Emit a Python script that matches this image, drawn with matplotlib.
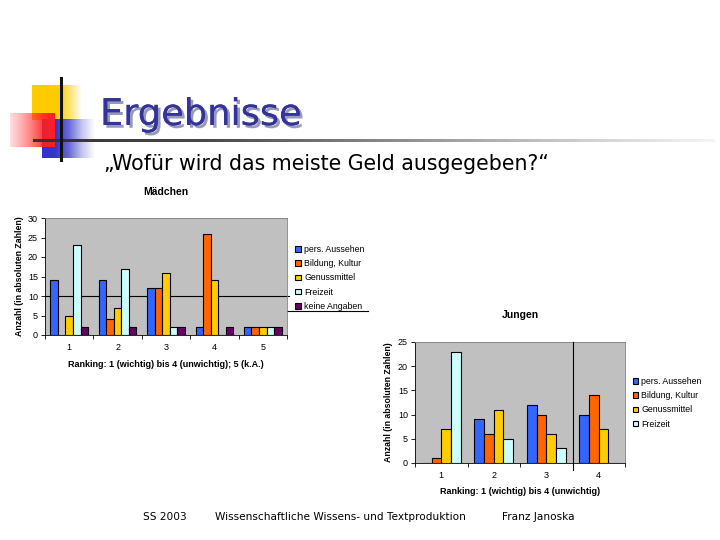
import numpy as np
import matplotlib
matplotlib.use("Agg")
import matplotlib.pyplot as plt
import matplotlib.patheffects as pe

# data
series = ["pers. Aussehen", "Bildung, Kultur", "Genussmittel", "Freizeit", "keine Angaben"]
colors = ["#3366FF", "#FF6600", "#FFCC00", "#CCFFFF", "#660066"]

maedchen_cats = ["1", "2", "3", "4", "5"]
maedchen_aussehen = [14, 14, 12, 2, 2]
maedchen_bildung = [0, 4, 12, 26, 2]
maedchen_genuss = [5, 7, 16, 14, 2]
maedchen_freizeit = [23, 17, 2, 0, 2]
maedchen_keine = [2, 2, 2, 2, 2]

jungen_cats = ["1", "2", "3", "4"]
jungen_aussehen = [0, 9, 12, 10]
jungen_bildung = [1, 6, 10, 14]
jungen_genuss = [7, 11, 6, 7]
jungen_freizeit = [23, 5, 3, 0]

W, H = 720, 540
plt.rcParams["font.family"] = ["Liberation Sans", "DejaVu Sans"]
fig = plt.figure(figsize=(7.2, 5.4), dpi=100)


def box(x0, y0, x1, y1):
    return [x0 / W, 1 - y1 / H, (x1 - x0) / W, (y1 - y0) / H]


# background overlay in pixel coordinates
bg = fig.add_axes([0, 0, 1, 1], zorder=-1)
bg.set_xlim(0, W)
bg.set_ylim(H, 0)
bg.axis("off")


def grad(ax, x0, x1, y0, y1, rgb, alphas):
    a = np.interp(np.linspace(0, 1, 200), np.linspace(0, 1, len(alphas)), alphas)
    img = np.zeros((2, 200, 4))
    img[..., :3] = matplotlib.colors.to_rgb(rgb)
    img[..., 3] = a
    ax.imshow(img, extent=(x0, x1, y1, y0), aspect="auto", interpolation="bilinear")


grad(bg, 32, 82, 85, 120, "#FFCC00", [1, 1, 1, 0.6, 0])
grad(bg, 42, 95, 119, 158, "#3333CC", [1, 1, 0.75, 0.3, 0])
grad(bg, 10, 55, 113, 147, "#FF2020", [0.15, 0.35, 0.6, 0.9, 1])
grad(bg, 33, 715, 139.5, 142.5, "#333333", [1, 0.9, 0.6, 0.3, 0.05])
bg.plot([61, 61], [78, 160], color="#111111", lw=2.2)
bg.plot([283, 368], [311, 311], color="black", lw=0.8)
bg.set_xlim(0, W)
bg.set_ylim(H, 0)

fig.text(100 / W, 1 - 125 / H, "Ergebnisse", fontsize=26.5, color="#333399",
         family="DejaVu Sans",
         path_effects=[pe.withSimplePatchShadow(offset=(2, -2),
                                                shadow_rgbFace="#9999BB", alpha=1),
                       pe.Normal()])
fig.text(104 / W, 1 - 170 / H, "\u201eWofür wird das meiste Geld ausgegeben?\u201c",
         fontsize=14.8, color="black", family="DejaVu Sans")

fig.text(143 / W, 1 - 520 / H, "SS 2003", fontsize=7.6, family="DejaVu Sans")
fig.text(215 / W, 1 - 520 / H, "Wissenschaftliche Wissens- und Textproduktion",
         fontsize=7.6, family="DejaVu Sans")
fig.text(502 / W, 1 - 520 / H, "Franz Janoska", fontsize=7.6, family="DejaVu Sans")


def chart(rect, cats, values, ymax, title, xlabel, title_y, label_y, ylab_x, bw):
    ax = fig.add_axes(rect)
    ax.set_facecolor("#C0C0C0")
    n = len(values)
    x = np.arange(1, len(cats) + 1)
    for i, v in enumerate(values):
        off = (i - (n - 1) / 2) * bw
        ax.bar(x + off, v, width=bw, color=colors[i], edgecolor="black",
               linewidth=0.8, label=series[i], zorder=2)
    ax.set_xlim(0.5, len(cats) + 0.5)
    ax.set_ylim(0, ymax)
    ax.set_yticks(range(0, ymax + 1, 5))
    ax.set_xticks(x)
    ax.set_xticklabels(cats)
    ax.set_xticks(np.arange(0.5, len(cats) + 1, 1), minor=True)
    ax.tick_params(axis="x", which="major", length=0, pad=6, labelsize=6.5)
    ax.tick_params(axis="x", which="minor", length=3, width=0.6)
    ax.tick_params(axis="y", length=3, width=0.6, labelsize=6.5, pad=2)
    for s in ["top", "right"]:
        ax.spines[s].set_color("#808080")
        ax.spines[s].set_linewidth(0.6)
    for s in ["left", "bottom"]:
        ax.spines[s].set_color("black")
        ax.spines[s].set_linewidth(0.6)
    ax.text(0.5, title_y, title, transform=ax.transAxes, ha="center",
            fontsize=7.5, fontweight="bold")
    ax.text(0.5, label_y, xlabel, transform=ax.transAxes, ha="center",
            fontsize=6.5, fontweight="bold")
    ax.text(ylab_x, 0.5, "Anzahl (in absoluten Zahlen)", transform=ax.transAxes,
            rotation=90, ha="center", va="center", fontsize=6.3, fontweight="bold")
    return ax


ax1 = chart(box(45, 218, 287, 335), maedchen_cats,
            [maedchen_aussehen, maedchen_bildung, maedchen_genuss,
             maedchen_freizeit, maedchen_keine],
            30, "Mädchen", "Ranking: 1 (wichtig) bis 4 (unwichtig); 5 (k.A.)",
            1.2, -0.27, -0.105, 0.156)
ax1.axhline(10, color="black", lw=0.8, zorder=1, clip_on=False, xmax=1.01)
ax1.legend(loc="upper left", bbox_to_anchor=(1.02, 0.8), frameon=False,
           fontsize=6.3, handlelength=0.6, handleheight=0.6,
           handletextpad=0.4, labelspacing=0.6, borderaxespad=0)

ax2 = chart(box(415, 342, 625, 463), jungen_cats,
            [jungen_aussehen, jungen_bildung, jungen_genuss, jungen_freizeit],
            25, "Jungen", "Ranking: 1 (wichtig) bis 4 (unwichtig)",
            1.2, -0.26, -0.125, 0.185)
ax2.axvline(3.5, color="black", lw=0.8, zorder=3, ymin=-0.06, clip_on=False)
ax2.legend(loc="upper left", bbox_to_anchor=(1.02, 0.74), frameon=False,
           fontsize=6.3, handlelength=0.6, handleheight=0.6,
           handletextpad=0.4, labelspacing=0.6, borderaxespad=0)

fig.savefig("out.png", dpi=100)
